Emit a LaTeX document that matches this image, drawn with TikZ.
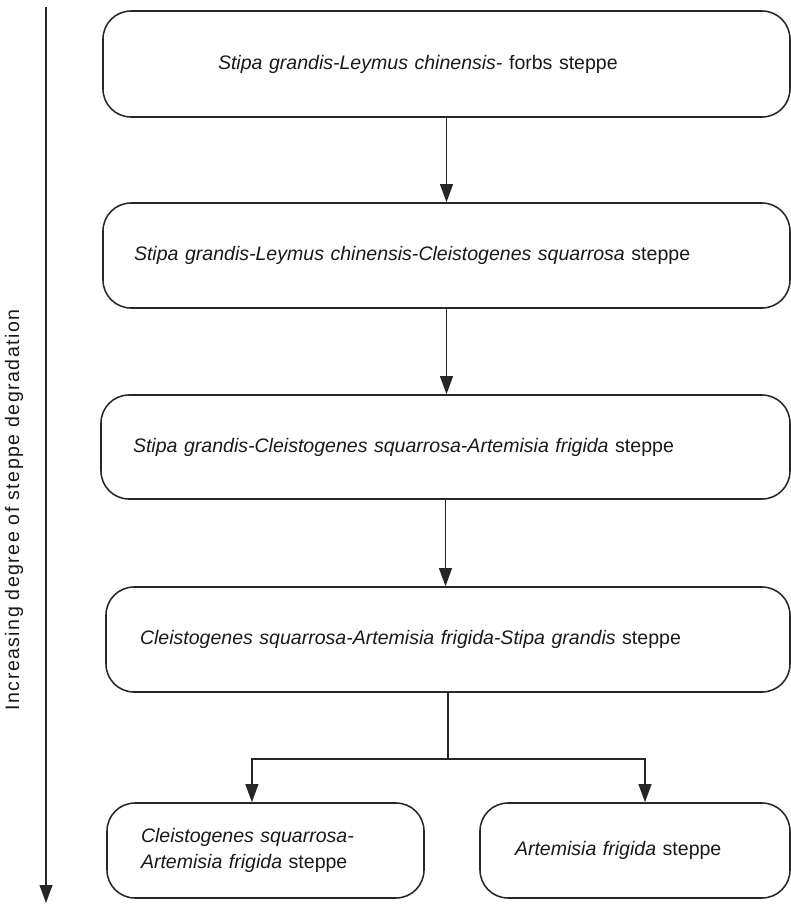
\documentclass[tikz,border=0pt]{standalone}
\usepackage{fontspec}
\setmainfont{Liberation Sans}
\usepackage{tikz}
\usetikzlibrary{positioning,calc,arrows.meta}

\tikzset{
  stage/.style={draw=black!85,line width=1.1pt,rounded corners=0.7cm,align=left,
    font=\fontsize{13.9}{19}\selectfont,text=black!90},
  arr/.style={draw=black!85,line width=1.1pt,-{Triangle[length=0.45cm,width=0.32cm]}},
  link/.style={draw=black!85,line width=1.1pt}
}

\begin{document}
\begin{tikzpicture}
		\useasboundingbox (0,0) rectangle (19.775,-22.625);
		% stages of degradation
		\node[stage,minimum height=2.65cm,text width=11.425cm,inner xsep=2.875cm] (s1) at (11.1625,-1.6) {\textit{Stipa grandis-Leymus chinensis-} forbs steppe};
		\node[stage,minimum height=2.625cm,text width=15.625cm,inner xsep=0.775cm] (s2) at (11.1625,-6.3875) {\textit{Stipa grandis-Leymus chinensis-Cleistogenes squarrosa} steppe};
		\node[stage,minimum height=2.6cm,text width=15.625cm,inner xsep=0.8cm] (s3) at (11.1375,-11.175) {\textit{Stipa grandis-Cleistogenes squarrosa-Artemisia frigida} steppe};
		\node[stage,minimum height=2.625cm,text width=15.4cm,inner xsep=0.85cm] (s4) at (11.2,-15.9875) {\textit{Cleistogenes squarrosa-Artemisia frigida-Stipa grandis} steppe};
		\node[stage,minimum height=2.375cm,text width=6.225cm,inner xsep=0.85cm] (s5) at (6.6375,-21.2625) {\mbox{\textit{Cleistogenes squarrosa-}}\\\textit{Artemisia frigida} steppe};
		\node[stage,minimum height=2.375cm,text width=6.0cm,inner xsep=0.875cm] (s6) at (15.875,-21.2625) {\textit{Artemisia frigida} steppe};
		% arrows
		\draw[arr] (s1.south) -- (s1.south |- s2.north);
		\draw[arr] (s2.south) -- (s2.south |- s3.north);
		\draw[arr] (s3.south) -- (s3.south |- s4.north);
		\coordinate (split) at ($(s4.south)+(0,-1.65)$);
		\draw[link] (s4.south) -- (split);
		\draw[arr] (split) -| ([xshift=-0.34cm]s5.north);
		\draw[arr] (split) -| ([xshift=0.25cm]s6.north);
		% degradation axis
		\coordinate (axtop) at (1.15,-0.175);
		\coordinate (axbot) at (1.15,-22.575);
		\draw[arr] (axtop) -- (axbot);
		\node[rotate=90,font=\fontsize{13.9}{19}\selectfont\addfontfeature{LetterSpace=7.5},text=black!90] (axlabel) at (0.35,-12.75) {Increasing degree of steppe degradation};
\end{tikzpicture}
\end{document}
